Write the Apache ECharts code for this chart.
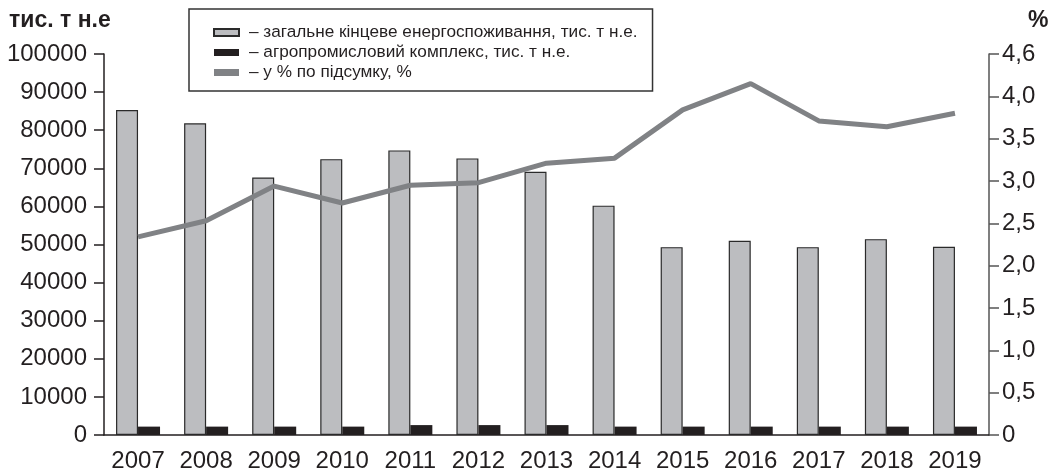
<!DOCTYPE html>
<html>
<head>
<meta charset="utf-8">
<script src="https://cdn.jsdelivr.net/npm/echarts@6/dist/echarts.min.js"></script>
<style>html,body{margin:0;padding:0;background:#fff}#c{width:1055px;height:475px}</style>
</head>
<body>
<div id="c"></div>
<script>
var years = ['2007','2008','2009','2010','2011','2012','2013','2014','2015','2016','2017','2018','2019'];
var totalConsumption = [85300, 81800, 67600, 72400, 74700, 72600, 69100, 60200, 49300, 51000, 49300, 51400, 49400];
var agroComplex = [2200, 2200, 2200, 2200, 2600, 2600, 2600, 2200, 2200, 2200, 2200, 2200, 2200];
var shareOfTotal = [2.34, 2.53, 2.94, 2.74, 2.95, 2.98, 3.21, 3.27, 3.84, 4.15, 3.71, 3.64, 3.80];
var seriesNames = ['загальне кінцеве енергоспоживання, тис. т н.е.', 'агропромисловий комплекс, тис. т н.е.', 'у % по підсумку, %'];
var leftTickLabels = ['0','10000','20000','30000','40000','50000','60000','70000','80000','90000','100000'];
var rightTickLabels = ['0','0,5','1,0','1,5','2,0','2,5','3,0','3,5','4,0','4,6'];
var leftUnit = 'тис. т н.е';
var rightUnit = '%';

var txt = '#231f20';
var font = 'Liberation Sans, Arial, sans-serif';
var chart = echarts.init(document.getElementById('c'));
chart.setOption({
  animation: false,
  textStyle: {fontFamily: font, color: txt},
  grid: {left: 104, right: 66, top: 54, bottom: 40, containLabel: false},
  title: [
    {text: leftUnit, left: 4, top: 4, textStyle: {fontFamily: font, fontWeight: 'bold', fontSize: 23, color: txt}},
    {text: rightUnit, left: 1023, top: 4, textStyle: {fontFamily: font, fontWeight: 'bold', fontSize: 23, color: txt}}
  ],
  legend: {
    orient: 'vertical', left: 189, top: 9,
    padding: [15, 15, 10, 24],
    borderColor: '#333', borderWidth: 1.5,
    itemWidth: 25, itemHeight: 7, itemGap: 3,
    textStyle: {fontFamily: 'Liberation Sans Narrow, Liberation Sans, Arial', fontSize: 17.2, color: txt, lineHeight: 17, padding: [0, 0, 0, 5]},
    formatter: function (n) { return '– ' + n; },
    data: [
      {name: seriesNames[0], icon: 'rect'},
      {name: seriesNames[1], icon: 'rect'},
      {name: seriesNames[2], icon: 'rect', itemStyle: {color: '#808285', borderWidth: 0}}
    ]
  },
  xAxis: {
    type: 'category', data: years,
    axisLine: {lineStyle: {color: txt, width: 1.5}},
    axisTick: {show: false},
    axisLabel: {fontSize: 24, color: txt, margin: 14, fontFamily: font, interval: 0}
  },
  yAxis: [
    {
      type: 'value', min: 0, max: 100000, interval: 10000, position: 'left',
      splitLine: {show: false},
      axisLine: {show: true, lineStyle: {color: txt, width: 1.5}},
      axisTick: {show: true, inside: false, length: 10, lineStyle: {color: txt, width: 1.5}},
      axisLabel: {fontSize: 24, color: txt, margin: 17, fontFamily: font,
        formatter: function (v) { return leftTickLabels[Math.round(v / 10000)]; }}
    },
    {
      type: 'value', min: 0, max: 4.5, interval: 0.5, position: 'right',
      splitLine: {show: false},
      axisLine: {show: true, lineStyle: {color: '#555', width: 1.5}},
      axisTick: {show: true, inside: false, length: 10, lineStyle: {color: '#555', width: 1.5}},
      axisLabel: {fontSize: 24, color: txt, margin: 13, fontFamily: font,
        formatter: function (v) { return rightTickLabels[Math.round(v / 0.5)]; }}
    }
  ],
  series: [
    {name: seriesNames[0], type: 'bar', data: totalConsumption, barWidth: 22, barGap: '0%',
      itemStyle: {color: '#bcbdc0', borderColor: '#2a2a2a', borderWidth: 1.2}},
    {name: seriesNames[1], type: 'bar', data: agroComplex, barWidth: 22, barGap: '0%',
      itemStyle: {color: '#231f20'}},
    {name: seriesNames[2], type: 'line', yAxisIndex: 1, data: shareOfTotal, symbol: 'none',
      lineStyle: {color: '#808285', width: 5}, itemStyle: {color: '#808285'}, z: 5}
  ]
});
</script>
</body>
</html>
